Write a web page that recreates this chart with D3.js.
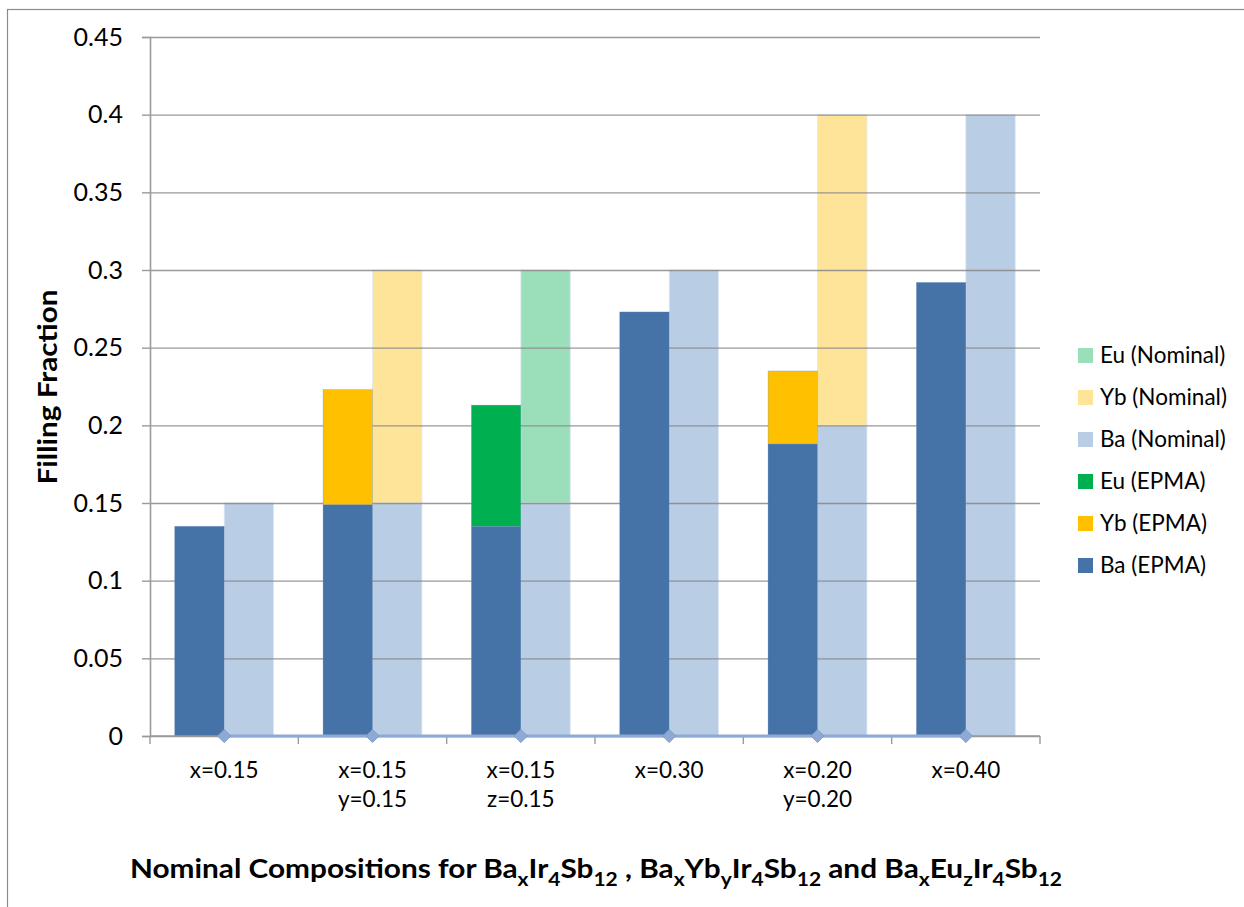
<html>
<script src='https://d3js.org/d3.v7.min.js'></script>
<style>
  body { margin: 0; background: #fff; }
  text { font-family: Lato, "Open Sans", sans-serif; fill: #000; }
</style>
<body onload='init()'>
<svg width=1244 height=907></svg>
<script>
// Categories (two-line labels)
const categories = ["x=0.15", "x=0.15|y=0.15", "x=0.15|z=0.15", "x=0.30", "x=0.20|y=0.20", "x=0.40"]

// EPMA values (stacked)
const baEpma = [0.135, 0.149, 0.135, 0.273, 0.188, 0.292]
const ybEpma = [0, 0.074, 0, 0, 0.047, 0]
const euEpma = [0, 0, 0.078, 0, 0, 0]

// Nominal values (stacked)
const baNominal = [0.15, 0.15, 0.15, 0.30, 0.20, 0.40]
const ybNominal = [0, 0.15, 0, 0, 0.20, 0]
const euNominal = [0, 0, 0.15, 0, 0, 0]

// zero line series with diamonds
const markerLine = [0, 0, 0, 0, 0, 0]

const yTicks = [0, 0.05, 0.1, 0.15, 0.2, 0.25, 0.3, 0.35, 0.4, 0.45]
const legendItems = ["Eu (Nominal)", "Yb (Nominal)", "Ba (Nominal)", "Eu (EPMA)", "Yb (EPMA)", "Ba (EPMA)"]

function init() {
    const svg = d3.select("svg")
    const left = 150, right = 1040, top = 37, bottom = 736

    const colors = {
        "Ba (EPMA)": "#4573A7", "Yb (EPMA)": "#FFC000", "Eu (EPMA)": "#00B050",
        "Ba (Nominal)": "#B9CDE5", "Yb (Nominal)": "#FEE499", "Eu (Nominal)": "#9BDFBA"
    }

    // chart frame
    svg.append("rect").attr("x", 7.5).attr("y", 9.5).attr("width", 1260).attr("height", 920)
        .attr("fill", "none").attr("stroke", "#8c8c8c").attr("stroke-width", 1.2)

    const x = d3.scaleBand().domain(categories).range([left, right]).paddingInner(1/3).paddingOuter(1/6)
    const sub = d3.scaleBand().domain(["EPMA", "Nominal"]).range([0, x.bandwidth()])
    const y = d3.scaleLinear().domain([0, 0.45]).range([bottom, top])

    const table = categories.map((c, i) => ({
        cat: c,
        "Ba (EPMA)": baEpma[i], "Yb (EPMA)": ybEpma[i], "Eu (EPMA)": euEpma[i],
        "Ba (Nominal)": baNominal[i], "Yb (Nominal)": ybNominal[i], "Eu (Nominal)": euNominal[i]
    }))
    const epmaStack = d3.stack().keys(["Ba (EPMA)", "Yb (EPMA)", "Eu (EPMA)"])(table)
    const nomStack = d3.stack().keys(["Ba (Nominal)", "Yb (Nominal)", "Eu (Nominal)"])(table)

    // nominal bars (gridlines show through them)
    svg.append("g").selectAll("g").data(nomStack).join("g")
        .attr("fill", d => colors[d.key])
        .selectAll("rect").data(d => d.filter(s => s[1] - s[0] > 0)).join("rect")
        .attr("x", d => x(d.data.cat) + sub("Nominal"))
        .attr("width", sub.bandwidth())
        .attr("y", d => y(d[1]))
        .attr("height", d => y(d[0]) - y(d[1]))
        .attr("stroke", "#dfe8f3").attr("stroke-width", 0.8)

    // gridlines
    svg.append("g")
        .attr("transform", `translate(${left},0)`)
        .call(d3.axisLeft(y).tickValues(yTicks).tickSize(-(right - left)).tickFormat(""))
        .call(g => g.select(".domain").remove())
        .call(g => g.selectAll("line").attr("stroke", "#878787").attr("stroke-width", 1.4).attr("stroke-opacity", 0.85))

    // EPMA bars
    svg.append("g").selectAll("g").data(epmaStack).join("g")
        .attr("fill", d => colors[d.key])
        .selectAll("rect").data(d => d.filter(s => s[1] - s[0] > 0)).join("rect")
        .attr("x", d => x(d.data.cat) + sub("EPMA"))
        .attr("width", sub.bandwidth())
        .attr("y", d => y(d[1]))
        .attr("height", d => y(d[0]) - y(d[1]))
        .attr("stroke", "#6b8fbd").attr("stroke-width", 0.6).attr("stroke-opacity", 0.5)

    // Y axis
    svg.append("g")
        .attr("transform", `translate(${left},0)`)
        .call(d3.axisLeft(y).tickValues(yTicks).tickSize(8).tickPadding(19).tickFormat(d => d3.format("")(+d.toFixed(2))))
        .call(g => g.select(".domain").attr("stroke", "#9a9a9a").attr("stroke-width", 1.6))
        .call(g => g.selectAll("line").attr("stroke", "#9a9a9a").attr("stroke-width", 1.4))
        .call(g => g.selectAll("text").attr("font-size", 25).attr("font-family", "Lato").attr("fill", "#000"))

    // X axis with ticks at category boundaries
    const bounds = d3.range(categories.length + 1).map(i => left + i * (right - left) / categories.length)
    const xa = svg.append("g")
    xa.append("line").attr("x1", left).attr("x2", right).attr("y1", bottom).attr("y2", bottom)
        .attr("stroke", "#9a9a9a").attr("stroke-width", 1.6)
    xa.selectAll(".tk").data(bounds).join("line")
        .attr("x1", d => d).attr("x2", d => d).attr("y1", bottom).attr("y2", bottom + 8)
        .attr("stroke", "#9a9a9a").attr("stroke-width", 1.4)
    xa.selectAll(".lbl").data(categories).join("text")
        .attr("text-anchor", "middle")
        .attr("font-size", 22.5)
        .attr("x", d => x(d) + x.bandwidth() / 2)
        .attr("y", 778)
        .selectAll("tspan").data(d => d.split("|")).join("tspan")
        .attr("x", function() { return d3.select(this.parentNode).attr("x") })
        .attr("dy", (d, i) => i === 0 ? 0 : 29)
        .text(d => d)

    // zero line with diamond markers
    const lineGen = d3.line().x((d, i) => x(categories[i]) + x.bandwidth() / 2).y(d => y(d))
    svg.append("path").datum(markerLine).attr("d", lineGen)
        .attr("fill", "none").attr("stroke", "#8DA9D4").attr("stroke-width", 3.2)
    svg.append("g").selectAll("path").data(markerLine).join("path")
        .attr("d", d3.symbol().type(d3.symbolDiamond2).size(110))
        .attr("transform", (d, i) => `translate(${x(categories[i]) + x.bandwidth() / 2},${y(d)})`)
        .attr("fill", "#8DA9D4").attr("stroke", "#7F9CCB").attr("stroke-width", 1)

    // Y title
    svg.append("text")
        .attr("transform", "translate(57,387) rotate(-90)")
        .attr("text-anchor", "middle").attr("font-weight", "bold").attr("font-size", 27)
        .attr("textLength", 195).attr("lengthAdjust", "spacingAndGlyphs")
        .text("Filling Fraction")

    // X title with subscripts
    const title = svg.append("text").attr("x", 596).attr("y", 878).attr("text-anchor", "middle")
        .attr("font-weight", "bold").attr("font-size", 27)
        .attr("textLength", 932).attr("lengthAdjust", "spacingAndGlyphs")
    const parts = [["Nominal Compositions for Ba", 0], ["x", 1], ["Ir", 0], ["4", 1], ["Sb", 0], ["12", 1],
        [" , Ba", 0], ["x", 1], ["Yb", 0], ["y", 1], ["Ir", 0], ["4", 1], ["Sb", 0], ["12", 1],
        [" and Ba", 0], ["x", 1], ["Eu", 0], ["z", 1], ["Ir", 0], ["4", 1], ["Sb", 0], ["12", 1]]
    let prevSub = 0
    parts.forEach(p => {
        const shift = p[1] - prevSub
        title.append("tspan").attr("font-size", p[1] ? 19 : 27)
            .attr("dy", shift === 0 ? 0 : (shift > 0 ? 8 : -8))
            .text(p[0])
        prevSub = p[1]
    })

    // Legend
    const lg = svg.append("g").selectAll("g").data(legendItems).join("g")
        .attr("transform", (d, i) => `translate(1078,${348 + i * 42})`)
    lg.append("rect").attr("width", 15).attr("height", 15).attr("fill", d => colors[d])
    lg.append("text").attr("x", 22).attr("y", 15).attr("font-size", 22.5).text(d => d)
}
</script>
</body>
</html>
